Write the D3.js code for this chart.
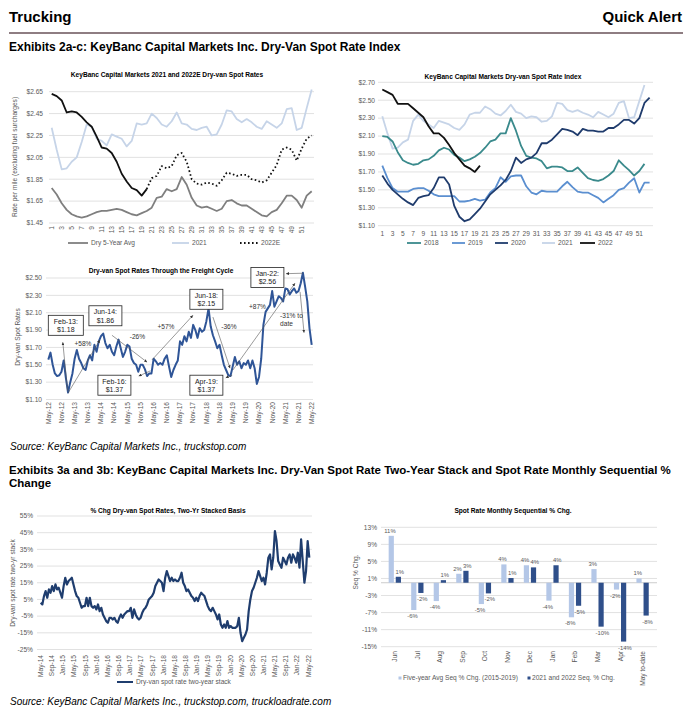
<html>
<head>
<script src="https://cdnjs.cloudflare.com/ajax/libs/d3/7.8.5/d3.min.js"></script>
<style>
  body { margin: 0; background: #fff; }
  svg text { font-family: "Liberation Sans", Arial, Helvetica, sans-serif; }
</style>
</head>
<body>
<svg id="page" width="690" height="724"></svg>
<script>
// ---- chart 1: 2021 and 2022E dry-van spot rates (weekly)
var c1Ticks = [1.45, 1.65, 1.85, 2.05, 2.25, 2.45, 2.65];
var c1Avg = [1.77,1.71,1.63,1.57,1.53,1.51,1.50,1.51,1.53,1.55, 1.56,1.56,1.57,1.58,1.57,1.55,1.53,1.52,1.54,1.56,
  1.59,1.68,1.69,1.76,1.74,1.76,1.87,1.80,1.68,1.61, 1.59,1.60,1.58,1.56,1.58,1.65,1.66,1.63,1.61,1.61,
  1.58,1.55,1.52,1.51,1.55,1.57,1.63,1.70,1.70,1.66, 1.59,1.70,1.74];
var c1Y2021 = [2.32,2.12,1.94,1.95,2.01,2.05,2.19,2.35,2.33,2.22, 2.20,2.16,2.26,2.24,2.22,2.15,2.20,2.36,2.35,2.36,
  2.45,2.41,2.35,2.33,2.38,2.46,2.36,2.35,2.31,2.30, 2.32,2.33,2.25,2.26,2.35,2.48,2.47,2.40,2.37,2.40,
  2.37,2.33,2.31,2.38,2.35,2.32,2.36,2.49,2.50,2.30, 2.32,2.50,2.67];
var c1Y2022 = [2.63,2.61,2.57,2.46,2.47,2.46,2.42,2.37,2.33,2.24, 2.14,2.13,2.09,2.01,1.90,1.83,1.77,1.75,1.70,1.76];
var c1Y2022E = [1.76,1.86,1.88,1.97,1.95,1.97,2.07,2.09,2.01,1.85, 1.81,1.80,1.82,1.81,1.79,1.84,1.91,1.90,1.88,1.89,
  1.89,1.85,1.84,1.82,1.84,1.91,1.98,2.12,2.14,2.12, 2.02,2.13,2.22,2.25];
var c1EStart = 20;

// ---- chart 2: spot rate index by year (weekly)
var c2Ticks = [1.10, 1.30, 1.50, 1.70, 1.90, 2.10, 2.30, 2.50, 2.70];
var c2Y2018 = [2.10,2.09,2.04,1.92,1.83,1.80,1.78,1.79,1.83,1.84, 1.88,1.94,1.97,1.95,1.89,1.86,1.82,1.84,1.87,1.91,
  1.97,2.04,2.06,2.13,2.13,2.30,2.16,1.99,1.88,1.86, 1.85,1.82,1.74,1.76,1.76,1.75,1.71,1.71,1.75,1.69,
  1.63,1.61,1.60,1.62,1.66,1.71,1.83,1.77,1.72,1.66, 1.71,1.79];
var c2Y2019 = [1.77,1.63,1.52,1.48,1.48,1.48,1.51,1.52,1.52,1.49, 1.45,1.43,1.43,1.43,1.43,1.37,1.37,1.38,1.40,1.38,
  1.39,1.47,1.52,1.64,1.59,1.65,1.66,1.66,1.54,1.47, 1.45,1.49,1.48,1.48,1.48,1.54,1.59,1.53,1.48,1.47,
  1.47,1.44,1.41,1.36,1.40,1.44,1.50,1.52,1.58,1.63, 1.47,1.58,1.58];
var c2Y2020 = [1.66,1.57,1.50,1.45,1.40,1.36,1.33,1.41,1.43,1.44, 1.52,1.64,1.64,1.56,1.32,1.20,1.15,1.17,1.23,1.29,
  1.37,1.45,1.50,1.55,1.61,1.71,1.86,1.80,1.84,1.86, 1.91,2.02,2.02,2.06,2.12,2.18,2.17,2.15,2.11,2.18,
  2.16,2.16,2.15,2.15,2.19,2.19,2.23,2.28,2.28,2.24, 2.30,2.47,2.53];
var c2Y2021 = [2.32,2.13,1.96,1.97,2.03,2.06,2.27,2.34,2.27,2.23, 2.19,2.27,2.25,2.23,2.19,2.17,2.23,2.34,2.36,2.36,
  2.43,2.40,2.35,2.33,2.38,2.45,2.37,2.35,2.30,2.32, 2.31,2.26,2.27,2.32,2.47,2.46,2.39,2.37,2.39,2.36,
  2.34,2.31,2.37,2.34,2.31,2.35,2.47,2.49,2.30,2.31, 2.49,2.67];
var c2Y2022 = [2.62,2.59,2.56,2.46,2.46,2.46,2.41,2.36,2.31,2.21, 2.13,2.13,2.08,2.00,1.91,1.84,1.77,1.74,1.70,1.77];

// ---- chart 3: spot rates through the freight cycle (monthly, May-12 .. May-22)
var c3Ticks = [1.10, 1.30, 1.50, 1.70, 1.90, 2.10, 2.30, 2.50];
var c3Labels = ["May-12","Nov-12","May-13","Nov-13","May-14","Nov-14","May-15","Nov-15","May-16","Nov-16","May-17",
  "Nov-17","May-18","Nov-18","May-19","Nov-19","May-20","Nov-20","May-21","Nov-21","May-22"];
var c3Rates = [1.56,1.64,1.50,1.40,1.37,1.38,1.42,1.55,1.35,1.18, 1.30,1.40,1.57,1.67,1.57,1.52,1.46,1.44,1.55,1.61,
  1.55,1.73,1.65,1.77,1.83,1.86,1.75,1.69,1.73,1.65, 1.61,1.71,1.79,1.69,1.59,1.65,1.73,1.71,1.57,1.52,
  1.50,1.42,1.50,1.50,1.45,1.37,1.40,1.40,1.57,1.54, 1.50,1.52,1.50,1.57,1.61,1.48,1.36,1.44,1.50,1.55,
  1.77,1.73,1.83,1.77,1.88,1.81,1.96,1.90,1.81,1.92, 1.88,1.90,2.00,2.15,1.94,1.84,1.77,1.69,1.73,1.61,
  1.50,1.44,1.38,1.37,1.48,1.59,1.50,1.54,1.46,1.52, 1.50,1.55,1.46,1.55,1.46,1.28,1.36,1.57,1.96,2.11,
  2.15,2.19,2.35,2.17,2.23,2.29,2.27,2.23,2.38,2.37, 2.31,2.35,2.38,2.33,2.35,2.44,2.56,2.40,2.23,1.92,
  1.73];
var c3Boxes = [
  {m: 9, lines: ["Feb-13:", "$1.18"]},
  {m: 25, lines: ["Jun-14:", "$1.86"]},
  {m: 45, lines: ["Feb-16:", "$1.37"]},
  {m: 73, lines: ["Jun-18:", "$2.15"]},
  {m: 83, lines: ["Apr-19:", "$1.37"]},
  {m: 116, lines: ["Jan-22:", "$2.56"]}
];
var c3Moves = ["+58%", "-26%", "+57%", "-36%", "+87%", "-31% to|date"];

// ---- chart 4: two-year stacked % change (May-14 .. May-22)
var c4Ticks = [-25, -15, -5, 5, 15, 25, 35, 45, 55];
var c4Labels = ["May-14","Sep-14","Jan-15","May-15","Sep-15","Jan-16","May-16","Sep-16","Jan-17","May-17","Sep-17",
  "Jan-18","May-18","Sep-18","Jan-19","May-19","Sep-19","Jan-20","May-20","Sep-20","Jan-21","May-21","Sep-21",
  "Jan-22","May-22"];
var c4Stack = [3, 2,7,10,6,11,9,13,10,14,11, 12,9,6,13,18,14,16,17,18,14, 10,7,6,3,0,1,1,6,1,6,
  1,0,1,-1,2,-2,0,-4,-6,-8, -9,-6,-6,-7,-6,-8,-9,-6,-4,-6, -4,-3,-2,-2,0,-6,-1,-4,-6,-7,
  -6,-3,-1,0,2,5,6,7,9,13, 15,17,16,15,10,18,22,19,16,18, 16,17,16,
  16,18,21,15,13,10,11,9,7, 6,4,6,4,7,9,8,7,4,1, -1,-2,0,-2,-4,-7,-4,-10,-12,-10,
  -12,-8,-12,-11,-12,-12,-12,-11,-6,-15, -20,-18,-16,-13,-2,5,10,12,15,18,
  22,19,16,18,14,21,30,32,23,30, 46,40,28,26,24,30,28,26,30,32, 27,32,30,27,33,24,41,28,15,22, 40,30];

// ---- chart 5: monthly sequential % change
var c5Ticks = [13, 9, 5, 1, -3, -7, -11, -15];
var c5Months = ["Jun","Jul","Aug","Sep","Oct","Nov","Dec","Jan","Feb","Mar","Apr","May to-date"];
var c5FiveYr = [11.0,-6.4,-4.3,2.1,-5.0,4.3,4.1,-4.2,-8.1,3.2,-1.6,1.0];
var c5Recent = [1.4,-2.4,0.6,2.8,-2.5,1.1,3.6,4.1,-5.4,-10.3,-13.8,-7.7];

var svg = d3.select("#page");
var money = d3.format("$.2f");
var gridColor = "#d9d9d9", tickColor = "#595959";

svg.append("defs").append("marker").attr("id", "ah")
  .attr("viewBox", "0 0 6 6").attr("refX", 6).attr("refY", 3)
  .attr("markerWidth", 5).attr("markerHeight", 5).attr("orient", "auto")
  .append("path").attr("d", "M0,0 L6,3 L0,6 z").attr("fill", "#333");

function text(x, y, s, size, anchor) {
  return svg.append("text").attr("x", x).attr("y", y).text(s)
    .style("font-size", size + "px").attr("text-anchor", anchor || "start");
}

function yGrid(ticks, y, x0, x1, labelX, fmt) {
  var g = svg.append("g");
  g.selectAll("line").data(ticks).enter().append("line")
    .attr("x1", x0).attr("x2", x1)
    .attr("y1", function (d) { return y(d); }).attr("y2", function (d) { return y(d); })
    .attr("stroke", gridColor).attr("stroke-width", 0.8);
  g.selectAll("text").data(ticks).enter().append("text")
    .attr("x", labelX).attr("y", function (d) { return y(d); }).attr("dy", "0.35em")
    .attr("text-anchor", "end").style("font-size", "6.6px").attr("fill", tickColor)
    .text(fmt);
}

function rotLabels(labels, xpos, yTop, size) {
  svg.append("g").selectAll("text").data(labels).enter().append("text")
    .attr("transform", function (d, i) { return "translate(" + xpos(d, i) + "," + yTop + ") rotate(-90)"; })
    .attr("dy", "0.35em").attr("text-anchor", "end")
    .style("font-size", (size || 6.6) + "px").attr("fill", tickColor)
    .text(function (d) { return d; });
}

function yTitle(s, x, y) {
  svg.append("text").attr("transform", "translate(" + x + "," + y + ") rotate(-90)")
    .attr("text-anchor", "middle").style("font-size", "6.6px").attr("fill", tickColor).text(s);
}

function chartTitle(s, x, y) {
  text(x, y, s, 6.6, "middle").style("font-weight", "bold");
}

function path(data, x, y, color, width, offset, dash) {
  var line = d3.line()
    .x(function (d, i) { return x(i + (offset || 0)); })
    .y(function (d) { return y(d); });
  var p = svg.append("path").datum(data).attr("d", line)
    .attr("fill", "none").attr("stroke", color).attr("stroke-width", width)
    .attr("stroke-linejoin", "round");
  if (dash) p.attr("stroke-dasharray", dash);
  return p;
}

function legendLine(x0, x1, y, color, width, label, dash) {
  var l = svg.append("line").attr("x1", x0).attr("x2", x1).attr("y1", y).attr("y2", y)
    .attr("stroke", color).attr("stroke-width", width);
  if (dash) l.attr("stroke-dasharray", dash);
  text(x1 + 3, y, label, 6.6).attr("dy", "0.35em").attr("fill", tickColor);
}

// ---- page header
text(9, 22, "Trucking", 15).style("font-weight", "bold");
text(682, 22, "Quick Alert", 15, "end").style("font-weight", "bold");
svg.append("line").attr("x1", 9).attr("x2", 683).attr("y1", 33).attr("y2", 33)
  .attr("stroke", "#8e7d82").attr("stroke-width", 2);
text(9, 51, "Exhibits 2a-c: KeyBanc Capital Markets Inc. Dry-Van Spot Rate Index", 12).style("font-weight", "bold");
text(9, 474, "Exhibits 3a and 3b: KeyBanc Capital Markets Inc. Dry-Van Spot Rate Two-Year Stack and Spot Rate Monthly Sequential %", 11.5).style("font-weight", "bold");
text(9, 487, "Change", 11.5).style("font-weight", "bold");

// ---- chart 1
var x1 = d3.scaleLinear().domain([1, 53]).range([51.7, 311.7]);
var y1 = d3.scaleLinear().domain([1.45, 2.65]).range([223, 91.7]);
chartTitle("KeyBanc Capital Markets 2021 and 2022E Dry-van Spot Rates", 167, 77);
yGrid(c1Ticks, y1, 49, 314, 43, money);
yTitle("Rate per mile (excluding fuel surcharges)", 17, 157);
rotLabels(d3.range(1, 52, 2), function (d) { return x1(d); }, 226);
path(c1Y2021, x1, y1, "#c6d4e8", 1.8, 1);
path(c1Avg, x1, y1, "#7f7f7f", 1.8, 1);
path(c1Y2022E, x1, y1, "#111", 1.8, c1EStart, "1.6,2.4");
path(c1Y2022, x1, y1, "#111", 1.8, 1);
legendLine(68, 88, 243, "#7f7f7f", 1.8, "Dry 5-Year Avg");
legendLine(172, 189, 243, "#c6d4e8", 1.8, "2021");
legendLine(240, 258, 243, "#111", 1.8, "2022E", "1.6,2.4");

// ---- chart 2
var x2 = d3.scaleLinear().domain([1, 53]).range([382.3, 649.6]);
var y2 = d3.scaleLinear().domain([1.10, 2.70]).range([225.7, 82.3]);
chartTitle("KeyBanc Capital Markets Dry-van Spot Rate Index", 503, 79);
yGrid(c2Ticks, y2, 378, 653, 375, money);
svg.append("g").selectAll("text").data(d3.range(1, 52, 2)).enter().append("text")
  .attr("x", function (d) { return x2(d); }).attr("y", 236)
  .attr("text-anchor", "middle").style("font-size", "6.6px").attr("fill", tickColor)
  .text(function (d) { return d; });
path(c2Y2021, x2, y2, "#c6d4e8", 1.8, 1);
path(c2Y2019, x2, y2, "#5b8fd0", 1.8, 1);
path(c2Y2018, x2, y2, "#3a8a8c", 1.8, 1);
path(c2Y2020, x2, y2, "#1f3b6c", 1.8, 1);
path(c2Y2022, x2, y2, "#111", 1.8, 1);
legendLine(407, 421, 243, "#3a8a8c", 1.8, "2018");
legendLine(452, 465, 243, "#5b8fd0", 1.8, "2019");
legendLine(495, 508, 243, "#1f3b6c", 1.8, "2020");
legendLine(542, 555, 243, "#c6d4e8", 1.8, "2021");
legendLine(580, 595, 243, "#111", 1.8, "2022");

// ---- chart 3
var x3 = d3.scaleLinear().domain([0, c3Rates.length - 1]).range([48.3, 311.7]);
var y3 = d3.scaleLinear().domain([1.10, 2.50]).range([399.5, 278]);
chartTitle("Dry-van Spot Rates Through the Freight Cycle", 161, 273);
yGrid(c3Ticks, y3, 46, 313, 42, money);
yTitle("Dry-van Spot Rates", 20, 337);
rotLabels(c3Labels, function (d, i) { return x3(i * 6); }, 402);
path(c3Rates, x3, y3, "#2f5597", 2);

// arrows between cycle turns, given in (month, rate)
var c3Arrows = [
  [[9, 1.175], [23.5, 1.785]], [[29, 1.84], [45, 1.53]], [[47.2, 1.555], [65.9, 2.07]],
  [[75, 2.05], [82.8, 1.46]], [[84.1, 1.44], [112.4, 2.44]], [[114.7, 2.34], [116.5, 1.87]],
  [[8.8, 1.20], [6.6, 1.76]], [[46.5, 1.43], [41.2, 1.37]], [[83.8, 1.38], [80.8, 1.35]],
  [[116, 2.555], [108.3, 2.55]]
];
svg.append("g").selectAll("line").data(c3Arrows).enter().append("line")
  .attr("x1", function (d) { return x3(d[0][0]); }).attr("y1", function (d) { return y3(d[0][1]); })
  .attr("x2", function (d) { return x3(d[1][0]); }).attr("y2", function (d) { return y3(d[1][1]); })
  .attr("stroke", "#555").attr("stroke-width", 0.6).attr("marker-end", "url(#ah)");

var c3BoxPos = [[0, 2.07], [18.5, 2.18], [22.6, 1.38], [64.5, 2.37], [64.5, 1.38], [92.3, 2.62]];
c3Boxes.forEach(function (b, i) {
  var bx = x3(c3BoxPos[i][0]), by = y3(c3BoxPos[i][1]);
  var w = i === 0 ? 35 : 33;
  svg.append("rect").attr("x", bx).attr("y", by).attr("width", w).attr("height", 20)
    .attr("fill", "#fff").attr("stroke", "#222").attr("stroke-width", 0.8);
  text(bx + w / 2, by + 8.3, b.lines[0], 7, "middle").attr("fill", "#222");
  text(bx + w / 2, by + 16.8, b.lines[1], 7, "middle").attr("fill", "#222");
});
var c3MovePos = [[15.8, 1.72, "middle"], [40.6, 1.80, "middle"], [53.6, 1.91, "middle"],
  [82.3, 1.91, "middle"], [95.3, 2.14, "middle"], [105.6, 2.04, "start"]];
c3Moves.forEach(function (s, i) {
  var p = c3MovePos[i];
  s.split("|").forEach(function (part, k) {
    text(x3(p[0]), y3(p[1]) + k * 8, part, 6.6, p[2]).attr("fill", "#333");
  });
});
text(10, 450, "Source: KeyBanc Capital Markets Inc., truckstop.com", 10).style("font-style", "italic");

// ---- chart 4
var x4 = d3.scaleLinear().domain([0, c4Stack.length - 1]).range([40.7, 309.3]);
var m4 = d3.scaleLinear().domain([0, (c4Labels.length - 1) * 4]).range([40.7, 308.3]);
var y4 = d3.scaleLinear().domain([-25, 55]).range([649.5, 516]);
chartTitle("% Chg Dry-van Spot Rates, Two-Yr Stacked Basis", 168, 513);
yGrid(c4Ticks, y4, 37, 312, 33, function (d) { return d + "%"; });
yTitle("Dry-van spot rate two-yr stack", 15, 583);
rotLabels(c4Labels, function (d, i) { return m4(i * 4); }, 655);
path(c4Stack, x4, y4, "#1f3d6e", 2.2);
legendLine(117, 133, 682, "#1f3d6e", 2, "Dry-van spot rate two-year stack");
text(10, 705, "Source: KeyBanc Capital Markets Inc., truckstop.com, truckloadrate.com", 10).style("font-style", "italic");

// ---- chart 5
var x5 = d3.scaleBand().domain(c5Months).range([383.7, 654]);
var y5 = d3.scaleLinear().domain([-15, 13]).range([646.7, 527.3]);
chartTitle("Spot Rate Monthly Sequential % Chg.", 513, 513);
yGrid(c5Ticks, y5, 381, 657, 377, function (d) { return d + "%"; });
svg.append("line").attr("x1", 381).attr("x2", 657).attr("y1", y5(0)).attr("y2", y5(0))
  .attr("stroke", "#bfbfbf").attr("stroke-width", 0.8);
yTitle("Seq % Chg.", 358, 572);
rotLabels(c5Months, function (d) { return x5(d) + x5.bandwidth() / 2; }, 651);

function bars(vals, color, dx, ldx) {
  var g = svg.append("g");
  g.selectAll("rect").data(vals).enter().append("rect")
    .attr("x", function (d, i) { return x5(c5Months[i]) + x5.bandwidth() / 2 + dx; })
    .attr("width", 5.2)
    .attr("y", function (d) { return y5(Math.max(0, d)); })
    .attr("height", function (d) { return Math.abs(y5(d) - y5(0)); })
    .attr("fill", color);
  g.selectAll("text").data(vals).enter().append("text")
    .attr("x", function (d, i) { return x5(c5Months[i]) + x5.bandwidth() / 2 + dx + 2.6 + ldx; })
    .attr("y", function (d) { return d >= 0 ? y5(d) - 3 : y5(d) + 8; })
    .attr("text-anchor", "middle").style("font-size", "5.9px").attr("fill", tickColor)
    .text(function (d) { return Math.round(d) + "%"; });
}
bars(c5FiveYr, "#b4c7e7", -6.3, -1.3);
bars(c5Recent, "#2f4f8a", 0.8, 1.3);

svg.append("rect").attr("x", 398.5).attr("y", 676.5).attr("width", 3).attr("height", 3).attr("fill", "#b4c7e7");
text(403, 678, "Five-year Avg Seq % Chg. (2015-2019)", 6.6).attr("dy", "0.35em").attr("fill", tickColor);
svg.append("rect").attr("x", 527.5).attr("y", 676.5).attr("width", 3).attr("height", 3).attr("fill", "#2f4f8a");
text(532, 678, "2021 and 2022 Seq. % Chg.", 6.6).attr("dy", "0.35em").attr("fill", tickColor);
</script>
</body>
</html>
